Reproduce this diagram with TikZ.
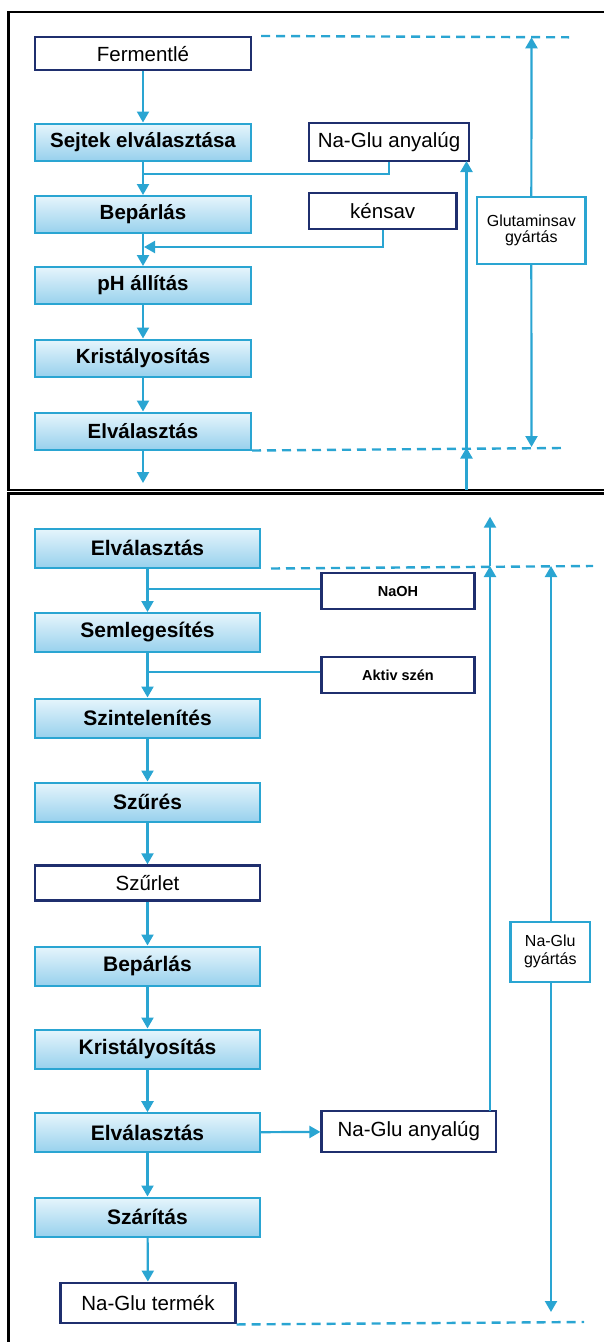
\documentclass[tikz,border=0pt]{standalone}
\usepackage{fontspec}
\setmainfont{Liberation Sans}
\usetikzlibrary{arrows.meta}
\definecolor{flow}{RGB}{42,165,210}
\definecolor{navy}{RGB}{31,47,110}
\definecolor{boxtop}{RGB}{230,245,252}
\definecolor{boxbot}{RGB}{152,209,237}
\tikzset{
  stepbox/.style={draw=flow, line width=2pt, top color=boxtop, bottom color=boxbot,
    minimum width=216pt, minimum height=37pt, inner sep=0pt,
    font=\fontsize{20.5}{22}\selectfont\bfseries},
  widebox/.style={stepbox, minimum width=225pt, minimum height=39pt,
    font=\fontsize{21}{23}\selectfont\bfseries},
  matbox/.style={draw=navy, line width=2.4pt, fill=white, inner sep=0pt,
    font=\fontsize{20.5}{22}\selectfont},
  smallbox/.style={matbox, minimum width=153pt, minimum height=36.5pt,
    font=\fontsize{14.5}{16}\selectfont\bfseries},
  rangebox/.style={draw=flow, line width=2.4pt, fill=white, inner sep=0pt, align=center},
  flowline/.style={draw=flow, line width=2.2pt},
  arr/.style={flowline, -{Triangle[width=12pt,length=11pt]}},
  limit/.style={draw=flow, line width=2.4pt, dash pattern=on 9pt off 6pt},
  frame/.style={draw=black, line width=2.4pt}
}
\begin{document}
\begin{tikzpicture}[x=1pt,y=-1pt]
  \useasboundingbox (0,0) rectangle (604,1342);
  % panels
  \draw[frame] (604,12) -- (8.5,12) -- (8.5,490) -- (604,490);
  \draw[frame] (604,493.5) -- (8.5,493.5) -- (8.5,1342);

  % glutaminsav gyartas
  \node[matbox, minimum width=216pt, minimum height=33pt] (ferm) at (143,53.7) {Fermentlé};
  \node[stepbox] (sejt) at (143,142) {Sejtek elválasztása};
  \node[stepbox] (bep1) at (143,214.5) {Bepárlás};
  \node[stepbox] (ph) at (143,285.5) {pH állítás};
  \node[stepbox] (krist1) at (143,358) {Kristályosítás};
  \node[stepbox] (elv1) at (143,431) {Elválasztás};
  \node[matbox, minimum width=160pt, minimum height=38pt] (anyal1) at (389,142) {Na-Glu anyalúg};
  \node[matbox, minimum width=147.5pt, minimum height=36pt] (kens) at (382.7,211) {kénsav};
  \node[rangebox, minimum width=108.7pt, minimum height=67pt,
    font=\fontsize{16}{16}\selectfont] (glut) at (531.3,230.5) {Glutaminsav\\gyártás};

  \coordinate (j1) at (143,174);
  \coordinate (j2) at (144,247);
  \coordinate (out1) at (143,483);
  \coordinate (g1) at (531.5,37.3);
  \coordinate (g2) at (531.5,447);
  \coordinate (r1) at (466.5,490);
  \coordinate (r2) at (466.5,447.5);
  \coordinate (r3) at (466.5,161);

  \draw[arr] (ferm) -- (sejt);
  \draw[arr] (sejt) -- (bep1);
  \draw[flowline] (anyal1.south) |- (j1);
  \draw[arr] (kens.south) |- (j2);
  \draw[arr] (bep1) -- (ph);
  \draw[arr] (ph) -- (krist1);
  \draw[arr] (krist1) -- (elv1);
  \draw[arr] (elv1) -- (out1);
  \draw[limit] ([xshift=9pt]ferm.north east) -- (569,37.3);
  \draw[limit] (elv1.south east) -- (563,448);
  \draw[arr] (glut) -- (g1);
  \draw[arr] (glut) -- (g2);
  \draw[arr] (r1) -- (r2);
  \draw[arr] (r2) -- (r3);

  % Na-Glu gyartas
  \node[widebox] (elv2) at (147.5,548) {Elválasztás};
  \node[widebox] (semle) at (147.5,632.5) {Semlegesítés};
  \node[widebox] (szint) at (147.5,718) {Szintelenítés};
  \node[widebox] (szur) at (147.5,802) {Szűrés};
  \node[matbox, minimum width=225pt, minimum height=35pt] (szurlet) at (147.5,883) {Szűrlet};
  \node[widebox] (bep2) at (147.5,966) {Bepárlás};
  \node[widebox] (krist2) at (147.5,1049) {Kristályosítás};
  \node[widebox] (elv3) at (147.5,1132.7) {Elválasztás};
  \node[widebox] (szar) at (147.5,1217) {Szárítás};
  \node[matbox, minimum width=175pt, minimum height=40.5pt] (termek) at (148,1303) {Na-Glu termék};
  \node[smallbox] (naoh) at (398,591) {NaOH};
  \node[smallbox] (aktiv) at (398,675) {Aktiv szén};
  \node[matbox, minimum width=174.4pt, minimum height=41pt] (anyal2) at (408.8,1131.5) {Na-Glu anyalúg};
  \node[rangebox, minimum width=79.3pt, minimum height=60pt,
    font=\fontsize{16}{18}\selectfont] (nagy) at (550.3,951.7) {Na-Glu\\gyártás};

  \coordinate (j3) at (147.5,589.3);
  \coordinate (j4) at (147.5,671.7);
  \coordinate (n1) at (551,566);
  \coordinate (n2) at (551,1312);
  \coordinate (r4) at (490,1111);
  \coordinate (r5) at (490,566);
  \coordinate (r6) at (490,516.7);

  \draw[arr] (elv2) -- (semle);
  \draw[flowline] (naoh.west |- j3) -- (j3);
  \draw[arr] (semle) -- (szint);
  \draw[flowline] (aktiv.west |- j4) -- (j4);
  \draw[arr] (szint) -- (szur);
  \draw[arr] (szur) -- (szurlet);
  \draw[arr] (szurlet) -- (bep2);
  \draw[arr] (bep2) -- (krist2);
  \draw[arr] (krist2) -- (elv3);
  \draw[arr] (elv3) -- (szar);
  \draw[arr] (szar) -- (termek);
  \draw[arr] (elv3) -- (anyal2);
  \draw[limit] ([xshift=10pt]elv2.south east) -- (593,566);
  \draw[limit] (termek.south east) -- (584,1322);
  \draw[arr] (nagy.north -| n1) -- (n1);
  \draw[arr] (nagy.south -| n2) -- (n2);
  \draw[arr] (r4) -- (r5);
  \draw[arr] (r5) -- (r6);
\end{tikzpicture}
\end{document}
